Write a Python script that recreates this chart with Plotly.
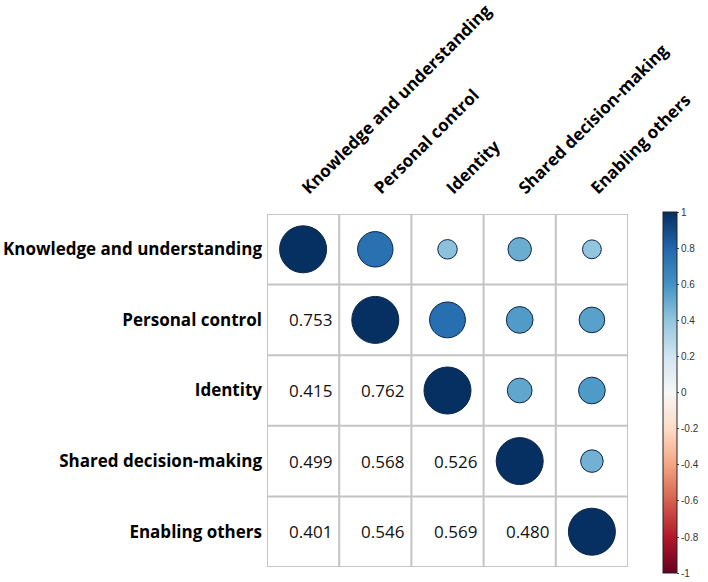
import plotly.graph_objects as go

labels = ["Knowledge and understanding", "Personal control", "Identity",
          "Shared decision-making", "Enabling others"]
corr = [
    [1.000, 0.753, 0.415, 0.499, 0.401],
    [0.753, 1.000, 0.762, 0.568, 0.546],
    [0.415, 0.762, 1.000, 0.526, 0.569],
    [0.499, 0.568, 0.526, 1.000, 0.480],
    [0.401, 0.546, 0.569, 0.480, 1.000],
]
cbar_ticks = [1, 0.8, 0.6, 0.4, 0.2, 0, -0.2, -0.4, -0.6, -0.8, -1]
cbar_ticktext = ["1", "0.8", "0.6", "0.4", "0.2", "0", "-0.2", "-0.4", "-0.6", "-0.8", "-1"]

rdbu = ["#67001f", "#b2182b", "#d6604d", "#f4a582", "#fddbc7", "#f7f7f7",
        "#d1e5f0", "#92c5de", "#4393c3", "#2166ac", "#053061"]
colorscale = [[i / 10, c] for i, c in enumerate(rdbu)]

n = len(labels)
cx, cy, cv = [], [], []
for i in range(n):
    for j in range(n):
        if j >= i:
            cx.append(labels[j]); cy.append(labels[i]); cv.append(corr[i][j])

FULL_D = 47
fig = go.Figure()
fig.add_trace(go.Scatter(
    x=cx, y=cy, mode="markers",
    marker=dict(size=[FULL_D * abs(v) for v in cv], sizemode="diameter", opacity=1,
                color=cv, colorscale=colorscale, cmin=-1, cmax=1,
                line=dict(color="#0d2547", width=1),
                showscale=True,
                colorbar=dict(
                    x=1.096, xanchor="left", xpad=0,
                    y=0.494, yanchor="middle", ypad=0,
                    len=361, lenmode="pixels", thickness=14,
                    outlinecolor="#222222", outlinewidth=1,
                    tickvals=cbar_ticks, ticktext=cbar_ticktext,
                    ticks="outside", ticklen=2, tickcolor="#444444",
                    tickfont=dict(family="Liberation Sans, Arial", size=10, color="#333333"),
                )),
    hoverinfo="skip", showlegend=False,
))

for i in range(n):
    for j in range(n):
        if j < i:
            fig.add_annotation(x=labels[j], y=labels[i], text=f"{corr[i][j]:.3f}",
                               xref="x", yref="y", xanchor="right", xshift=31,
                               showarrow=False,
                               font=dict(family="Open Sans", size=17, color="#111111"))

shapes = []
for k in range(n + 1):
    p = k - 0.5
    shapes.append(dict(type="line", xref="x", yref="y", x0=p, x1=p, y0=-0.5, y1=n - 0.5,
                       line=dict(color="#c4c4c4", width=2), layer="below"))
    shapes.append(dict(type="line", xref="x", yref="y", x0=-0.5, x1=n - 0.5, y0=p, y1=p,
                       line=dict(color="#c4c4c4", width=2), layer="below"))

fig.update_layout(
    width=708, height=582,
    margin=dict(l=267, r=75, t=214, b=9),
    paper_bgcolor="white", plot_bgcolor="white",
    shapes=shapes,
    xaxis=dict(side="top", categoryorder="array", categoryarray=labels, automargin=False,
               range=[-0.5, n - 0.5], showgrid=False, zeroline=False, showline=False,
               tickangle=-45, ticks="", ticklabelstandoff=12,
               tickfont=dict(family="Open Sans", size=17, color="black", weight="bold")),
    yaxis=dict(categoryorder="array", categoryarray=labels, automargin=False,
               range=[n - 0.5, -0.5], showgrid=False, zeroline=False, showline=False,
               ticks="", ticklabelstandoff=4,
               tickfont=dict(family="Open Sans", size=17, color="black", weight="bold")),
)

fig.write_html("out.html", config={"displayModeBar": False},
               post_script="document.body.style.margin='0px';")
